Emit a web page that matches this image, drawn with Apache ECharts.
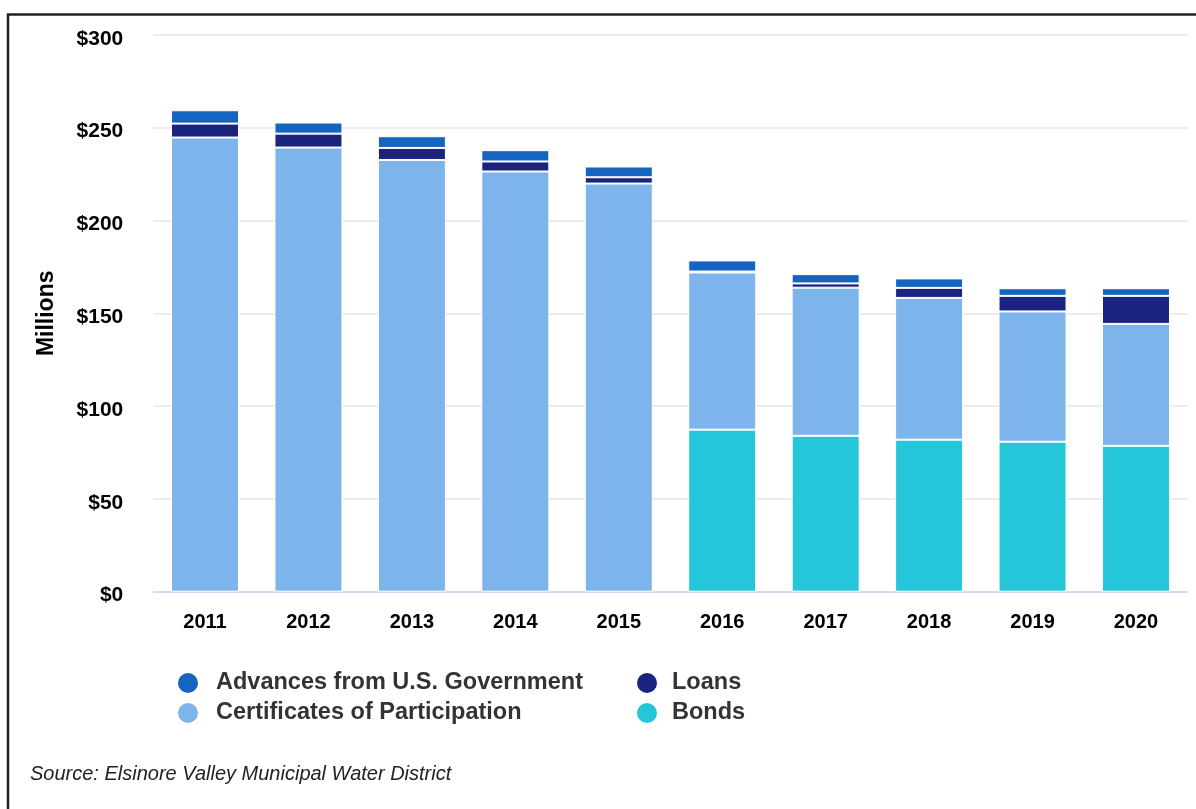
<!DOCTYPE html>
<html>
<head>
<meta charset="utf-8">
<script src="https://cdn.jsdelivr.net/npm/echarts@6/dist/echarts.min.js"></script>
<style>
html,body{margin:0;padding:0;background:#fff;}
#chart{width:1196px;height:809px;}
</style>
</head>
<body>
<div id="chart"></div>
<script>
const years = ['2011','2012','2013','2014','2015','2016','2017','2018','2019','2020'];
const bonds = [null, null, null, null, null, 87.3, 84.0, 81.9, 80.8, 78.6];
const certificates = [244.7, 239.3, 232.6, 226.4, 219.9, 84.7, 79.8, 76.4, 70.2, 65.7];
const loans = [7.5, 7.5, 6.5, 5.4, 3.4, 0.5, 2.3, 5.4, 8.4, 15.1];
const advances = [7.2, 6.0, 6.3, 6.1, 5.8, 6.0, 5.0, 5.1, 4.1, 4.1];
const yTicks = [0, 50, 100, 150, 200, 250, 300];

const FONT = '"Liberation Sans", Arial, sans-serif';
const chart = echarts.init(document.getElementById('chart'), null, {renderer: 'canvas'});

function barSeries(name, data, color) {
  return {
    name: name, type: 'bar', stack: 'total', data: data, barWidth: 68,
    itemStyle: {color: color, borderColor: '#ffffff', borderWidth: 1},
    emphasis: {disabled: true}
  };
}

chart.setOption({
  animation: false,
  backgroundColor: '#ffffff',
  textStyle: {fontFamily: FONT},
  grid: {left: 153.3, right: 8.3, top: 34.9, bottom: 217.3, containLabel: false},
  xAxis: {
    type: 'category', data: years,
    axisLine: {lineStyle: {color: '#ccd6eb', width: 1.5}},
    axisTick: {show: false},
    axisLabel: {color: '#000', fontWeight: 'bold', fontSize: 20, margin: 21, fontFamily: FONT}
  },
  yAxis: {
    type: 'value', min: yTicks[0], max: yTicks[yTicks.length - 1], interval: 50,
    name: 'Millions', nameLocation: 'middle', nameRotate: 90, nameGap: 95,
    nameTextStyle: {color: '#000', fontWeight: 'bold', fontSize: 23, fontFamily: FONT},
    axisLine: {show: false}, axisTick: {show: false},
    splitLine: {lineStyle: {color: '#e6e6e6', width: 1.5}},
    axisLabel: {
      margin: 30,
      formatter: v => '{a|$' + v + '}',
      rich: {a: {color: '#000', fontWeight: 'bold', fontSize: 21, fontFamily: FONT, padding: [8, 0, 0, 0]}}
    }
  },
  legend: [
    {
      data: ['Advances from U.S. Government', 'Certificates of Participation'],
      orient: 'vertical', left: 171, top: 666, itemWidth: 22, itemHeight: 22, itemGap: 6,
      icon: 'circle', selectedMode: false,
      textStyle: {color: '#333', fontWeight: 'bold', fontSize: 23.5, lineHeight: 22, fontFamily: FONT, padding: [0,0,0,12]}
    },
    {
      data: ['Loans', 'Bonds'],
      orient: 'vertical', left: 630, top: 666, itemWidth: 22, itemHeight: 22, itemGap: 6,
      icon: 'circle', selectedMode: false,
      textStyle: {color: '#333', fontWeight: 'bold', fontSize: 23.5, lineHeight: 22, fontFamily: FONT, padding: [0,0,0,9]}
    }
  ],
  graphic: [
    {type: 'rect', shape: {x: 8, y: 14.5, width: 1300, height: 900}, style: {fill: 'none', stroke: '#222', lineWidth: 2.5}, silent: true},
    {type: 'text', left: 30, top: 764, style: {text: 'Source: Elsinore Valley Municipal Water District', fill: '#222', font: 'italic 20px "Liberation Sans", Arial, sans-serif'}}
  ],
  series: [
    barSeries('Bonds', bonds, '#26c6da'),
    barSeries('Certificates of Participation', certificates, '#7cb4eb'),
    barSeries('Loans', loans, '#1a237e'),
    barSeries('Advances from U.S. Government', advances, '#1565c0')
  ]
});
</script>
</body>
</html>
